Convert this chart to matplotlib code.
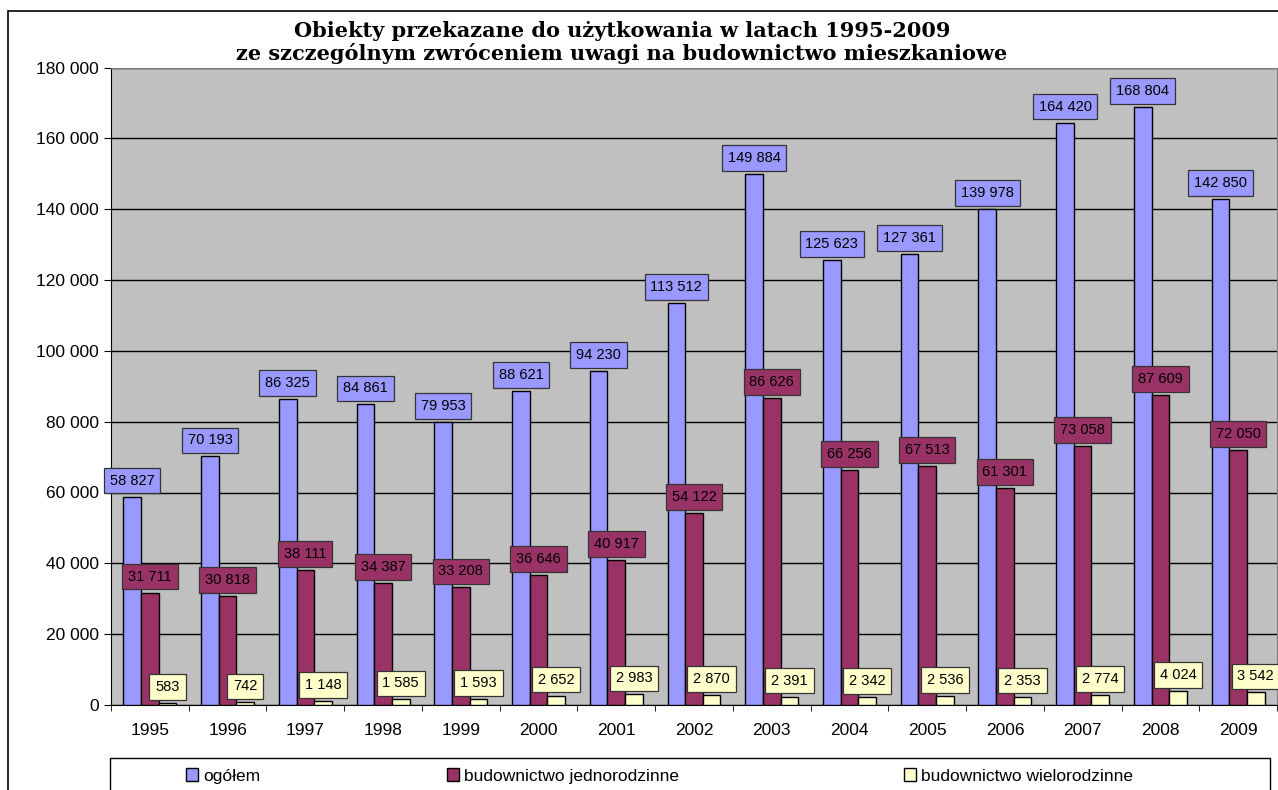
import numpy as np
from matplotlib import pyplot as plt
import matplotlib.patches as patches
from matplotlib.ticker import FuncFormatter

years = [1995, 1996, 1997, 1998, 1999, 2000, 2001, 2002,
         2003, 2004, 2005, 2006, 2007, 2008, 2009]
ogolem = [58827, 70193, 86325, 84861, 79953, 88621, 94230, 113512,
          149884, 125623, 127361, 139978, 164420, 168804, 142850]
jednorodzinne = [31711, 30818, 38111, 34387, 33208, 36646, 40917, 54122,
                 86626, 66256, 67513, 61301, 73058, 87609, 72050]
wielorodzinne = [583, 742, 1148, 1585, 1593, 2652, 2983, 2870,
                 2391, 2342, 2536, 2353, 2774, 4024, 3542]

series = [("ogółem", ogolem, "#9999ff"),
          ("budownictwo jednorodzinne", jednorodzinne, "#993366"),
          ("budownictwo wielorodzinne", wielorodzinne, "#ffffcc")]

plt.rcParams["font.family"] = ["Liberation Sans", "DejaVu Sans"]


def spaced(v):
    return "{:,}".format(int(v)).replace(",", " ")


W, H = 1278, 790
fig = plt.figure(figsize=(W / 100, H / 100), dpi=100)
ax = fig.add_axes([111 / W, 1 - 705 / H, (1277 - 111) / W, (705 - 67.5) / H])
ax.set_facecolor("#c0c0c0")

# outer chart border (right and bottom edges fall outside the picture)
fig.patches.append(patches.Rectangle((8 / W, -0.1), 1.2, 1.1 - 11 / H,
                                     transform=fig.transFigure, fill=False,
                                     edgecolor="black", linewidth=1.2))

x = np.arange(len(years))
barwidth = 0.227
for i, (name, vals, col) in enumerate(series):
    pos = x + (i - 1) * barwidth
    ax.bar(pos, vals, width=barwidth, color=col, edgecolor="black",
           linewidth=1.0, label=name, zorder=3)
    for px, v in zip(pos, vals):
        ax.annotate(spaced(v), (px, v), xytext=(0, 6.5), textcoords="offset points",
                    ha="center", va="bottom", fontsize=10.5, zorder=5,
                    bbox=dict(boxstyle="square,pad=0.4", facecolor=col,
                              edgecolor="#333333", linewidth=0.9))

ax.set_xlim(-0.5, len(years) - 0.5)
ax.set_ylim(0, 180000)
ax.set_yticks(range(0, 180001, 20000))
ax.yaxis.set_major_formatter(FuncFormatter(lambda v, p: spaced(v)))
ax.set_xticks(x)
ax.set_xticklabels([str(y) for y in years])
ax.set_xticks(np.arange(len(years) + 1) - 0.5, minor=True)
ax.tick_params(axis="x", which="major", length=0, labelsize=12.5, pad=13)
ax.tick_params(axis="x", which="minor", length=4, direction="out")
ax.tick_params(axis="y", length=5, direction="out", labelsize=12.5, pad=4)
ax.grid(axis="y", color="black", linewidth=1.0, zorder=1)
ax.set_axisbelow(True)
for s in ["top", "right"]:
    ax.spines[s].set_color("#808080")
for s in ["left", "bottom"]:
    ax.spines[s].set_color("black")

fig.text(622 / W, 1 - 31 / H,
         "Obiekty przekazane do użytkowania w latach 1995-2009",
         ha="center", va="center", fontsize=15, fontweight="bold",
         family="DejaVu Serif")
fig.text(622 / W, 1 - 54 / H,
         "ze szczególnym zwróceniem uwagi na budownictwo mieszkaniowe",
         ha="center", va="center", fontsize=15, fontweight="bold",
         family="DejaVu Serif")

# legend frame runs past the bottom edge
fig.patches.append(patches.Rectangle((110 / W, -0.1), (1270 - 110) / W, 0.1 + 32 / H,
                                     transform=fig.transFigure, fill=False,
                                     edgecolor="black", linewidth=1.0))
handles, labels = ax.get_legend_handles_labels()
legend_x = [186, 447, 904]
for h, lab, lx in zip(handles, labels, legend_x):
    leg = fig.legend([h], [lab], loc="center left",
                     bbox_to_anchor=(lx / W, 1 - 776 / H), frameon=False,
                     fontsize=12.5, handlelength=0.7, handleheight=0.7,
                     handletextpad=0.3, borderpad=0, borderaxespad=0)

plt.savefig("out.png", dpi=100)
plt.close()
